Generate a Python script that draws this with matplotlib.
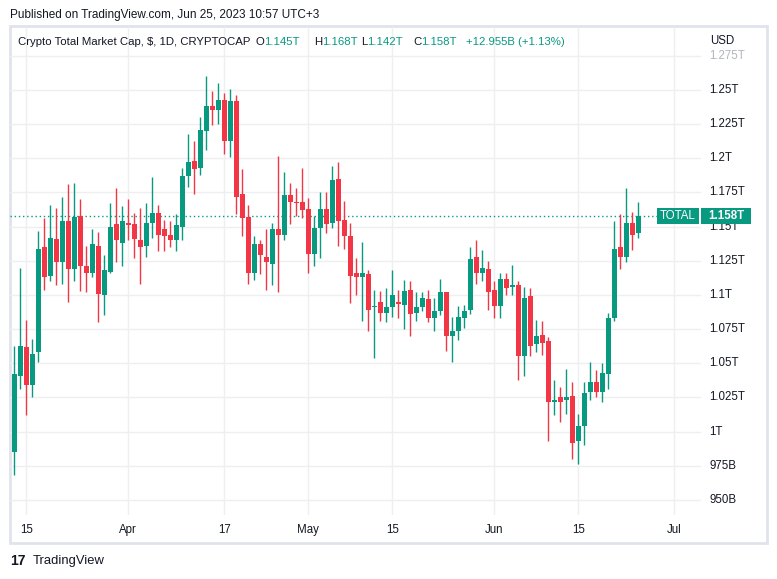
import matplotlib
matplotlib.use("Agg")
import matplotlib.pyplot as plt
import matplotlib.dates as mdates
import matplotlib.transforms as mtransforms
from matplotlib.patches import Rectangle
import numpy as np
import pandas as pd

plt.rcParams['font.family'] = ['Liberation Sans', 'DejaVu Sans']

# ---------------- data ----------------
start_date = "2023-03-13"
opens = [0.985, 1.041, 1.062, 1.034, 1.058, 1.135, 1.114, 1.141, 1.124, 1.154,
         1.119, 1.158, 1.121, 1.116, 1.136, 1.100, 1.117, 1.152, 1.138, 1.153,
         1.152, 1.140, 1.136, 1.153, 1.160, 1.148, 1.144, 1.140, 1.150, 1.187,
         1.198, 1.193, 1.220, 1.238, 1.235, 1.243, 1.213, 1.242, 1.174, 1.157,
         1.116, 1.137, 1.128, 1.123, 1.148, 1.144, 1.173, 1.168, 1.168, 1.163,
         1.130, 1.149, 1.163, 1.153, 1.185, 1.155, 1.143, 1.116, 1.113, 1.115,
         1.091, 1.095, 1.087, 1.091, 1.095, 1.093, 1.104, 1.087, 1.091, 1.097,
         1.083, 1.088, 1.102, 1.070, 1.074, 1.083, 1.089, 1.128, 1.116, 1.119,
         1.104, 1.092, 1.112, 1.106, 1.107, 1.055, 1.099, 1.064, 1.071, 1.066,
         1.022, 1.025, 1.023, 1.026, 0.993, 1.004, 1.029, 1.036, 1.029, 1.042,
         1.083, 1.135, 1.128, 1.153, 1.145]
highs = [1.063, 1.120, 1.082, 1.068, 1.147, 1.156, 1.166, 1.164, 1.172, 1.181,
         1.182, 1.170, 1.136, 1.148, 1.146, 1.129, 1.167, 1.178, 1.165, 1.170,
         1.160, 1.164, 1.167, 1.186, 1.166, 1.155, 1.154, 1.159, 1.193, 1.218,
         1.213, 1.230, 1.260, 1.249, 1.255, 1.248, 1.251, 1.246, 1.192, 1.166,
         1.143, 1.140, 1.148, 1.153, 1.202, 1.190, 1.182, 1.178, 1.193, 1.171,
         1.158, 1.175, 1.175, 1.194, 1.197, 1.169, 1.153, 1.127, 1.139, 1.118,
         1.104, 1.103, 1.105, 1.118, 1.104, 1.111, 1.110, 1.102, 1.102, 1.104,
         1.098, 1.112, 1.102, 1.084, 1.092, 1.093, 1.135, 1.140, 1.133, 1.125,
         1.110, 1.116, 1.116, 1.122, 1.110, 1.106, 1.105, 1.082, 1.081, 1.069,
         1.038, 1.033, 1.046, 1.036, 1.013, 1.036, 1.051, 1.045, 1.050, 1.087,
         1.154, 1.159, 1.178, 1.161, 1.168]
lows = [0.968, 1.031, 1.012, 1.025, 1.051, 1.104, 1.110, 1.107, 1.108, 1.095,
        1.110, 1.103, 1.102, 1.113, 1.080, 1.085, 1.116, 1.124, 1.121, 1.140,
        1.127, 1.108, 1.128, 1.142, 1.132, 1.132, 1.135, 1.132, 1.140, 1.179,
        1.174, 1.188, 1.206, 1.224, 1.225, 1.203, 1.201, 1.159, 1.143, 1.108,
        1.111, 1.115, 1.104, 1.107, 1.102, 1.140, 1.152, 1.158, 1.156, 1.116,
        1.121, 1.127, 1.145, 1.149, 1.136, 1.134, 1.094, 1.100, 1.081, 1.074,
        1.054, 1.081, 1.080, 1.084, 1.083, 1.075, 1.070, 1.081, 1.088, 1.080,
        1.074, 1.085, 1.059, 1.051, 1.067, 1.076, 1.086, 1.108, 1.110, 1.089,
        1.083, 1.083, 1.100, 1.100, 1.038, 1.041, 1.055, 1.058, 1.056, 0.993,
        1.012, 1.007, 1.013, 0.980, 0.976, 0.990, 1.023, 1.025, 1.022, 1.031,
        1.081, 1.119, 1.124, 1.133, 1.142]
closes = [1.042, 1.063, 1.034, 1.057, 1.134, 1.113, 1.142, 1.124, 1.154, 1.119,
          1.157, 1.121, 1.116, 1.137, 1.101, 1.118, 1.150, 1.140, 1.154, 1.151,
          1.141, 1.135, 1.153, 1.160, 1.144, 1.143, 1.140, 1.151, 1.187, 1.197,
          1.192, 1.221, 1.238, 1.235, 1.243, 1.213, 1.242, 1.172, 1.156, 1.116,
          1.137, 1.129, 1.124, 1.148, 1.144, 1.173, 1.168, 1.1673, 1.162, 1.130,
          1.149, 1.163, 1.152, 1.184, 1.154, 1.143, 1.114, 1.113, 1.116, 1.089,
          1.0915, 1.087, 1.091, 1.100, 1.0935, 1.103, 1.086, 1.091, 1.098, 1.083,
          1.088, 1.102, 1.070, 1.074, 1.084, 1.088, 1.126, 1.116, 1.120, 1.102,
          1.092, 1.112, 1.105, 1.107, 1.055, 1.098, 1.063, 1.070, 1.065, 1.022,
          1.023, 1.022, 1.025, 0.992, 1.004, 1.028, 1.036, 1.029, 1.043, 1.083,
          1.134, 1.128, 1.153, 1.144, 1.158]

y_ticks = [0.95, 0.975, 1.0, 1.025, 1.05, 1.075, 1.1, 1.125, 1.15, 1.175,
           1.2, 1.225, 1.25, 1.275]
y_tick_labels = ["950B", "975B", "1T", "1.025T", "1.05T", "1.075T", "1.1T",
                 "1.125T", "1.15T", "1.175T", "1.2T", "1.225T", "1.25T", "1.275T"]
x_tick_dates = ["2023-03-15", "2023-04-01", "2023-04-17", "2023-05-01",
                "2023-05-15", "2023-06-01", "2023-06-15", "2023-07-01"]
x_tick_labels = ["15", "Apr", "17", "May", "15", "Jun", "15", "Jul"]
last_close = 1.158
symbol_name = "TOTAL"
last_label = "1.158T"

# ---------------- styling ----------------
W, H = 777, 579
GREEN = "#089981"
RED = "#F23645"
TXT = "#131722"
GRID = "#eeeff1"
BORDER = "#e0e3eb"

fig = plt.figure(figsize=(W / 100, H / 100), dpi=100)
fig.patch.set_facecolor("white")


def fx(px):
    return px / W


def fy(py):
    return 1 - py / H


# plot area in pixels
PL, PR, PT, PB = 10, 701, 27, 515
ax = fig.add_axes([fx(PL), fy(PB), fx(PR) - fx(PL), fy(PT) - fy(PB)])
ax.set_facecolor("none")
for s in ax.spines.values():
    s.set_visible(False)
ax.set_xticks([])
ax.set_yticks([])

dates = pd.date_range(start_date, periods=len(opens), freq="D")
xd = mdates.date2num(dates)
o = np.array(opens)
h = np.array(highs)
l = np.array(lows)
c = np.array(closes)

px_per_day = 6.0
first_px = 14.3
ax.set_xlim(xd[0] - (first_px - PL) / px_per_day, xd[0] + (PR - first_px) / px_per_day)
ax.set_ylim(0.93903, 1.29606)

# grid
for yt in y_ticks:
    ax.axhline(yt, color=GRID, lw=1.0, zorder=0)
xt = mdates.date2num(pd.to_datetime(x_tick_dates))
for xv in xt:
    ax.axvline(xv, color=GRID, lw=1.0, zorder=0)

# candles
up = c >= o
cols = np.where(up, GREEN, RED)
ax.vlines(xd, l, h, colors=cols, lw=1.0, zorder=3)
body_bottom = np.minimum(o, c)
body_h = np.maximum(np.abs(c - o), 0.0008)
ax.bar(xd, body_h, bottom=body_bottom, width=0.78, color=cols, lw=0, zorder=4)

# last price dotted line
ax.axhline(last_close, xmin=0, xmax=(657 - PL) / (PR - PL), color=GREEN,
           lw=1.0, ls=(0, (1, 2)), zorder=2)

# frame
fig.add_artist(Rectangle((fx(10), fy(543)), fx(767) - fx(10), fy(26) - fy(543),
                         transform=fig.transFigure, fill=False,
                         edgecolor=BORDER, lw=2.0, zorder=0))

# price axis labels
ytrans = mtransforms.blended_transform_factory(fig.transFigure, ax.transData)
for yt, lab in zip(y_ticks, y_tick_labels):
    col = "#b2b5be" if lab == "1.275T" else TXT
    fig.text(fx(709), yt, lab, transform=ytrans, ha="left", va="center",
             fontsize=8.3, color=col, zorder=1)
fig.text(fx(710), fy(41), "USD", ha="left", va="center", fontsize=8.3, color=TXT)

# time axis labels
xtrans = mtransforms.blended_transform_factory(ax.transData, fig.transFigure)
for xv, lab in zip(xt, x_tick_labels):
    fig.text(xv, fy(530), lab, transform=xtrans, ha="center", va="center",
             fontsize=8.3, color=TXT)

# last-price labels
fig.canvas.draw()
ypix = ax.transData.transform((xd[-1], last_close))[1]
hb = 16
fig.add_artist(Rectangle((fx(657), (ypix - hb / 2) / H), fx(699) - fx(657), hb / H,
                         transform=fig.transFigure, facecolor=GREEN,
                         edgecolor="none", zorder=5))
fig.add_artist(Rectangle((fx(701), (ypix - hb / 2) / H), fx(751) - fx(701), hb / H,
                         transform=fig.transFigure, facecolor=GREEN,
                         edgecolor="none", zorder=5))
fig.text(fx(678), ypix / H, symbol_name, ha="center", va="center",
         fontsize=8.3, color="white", zorder=6)
fig.text(fx(726), ypix / H, last_label, ha="center", va="center",
         fontsize=8.3, color="white", fontweight="bold", zorder=6)

# header texts
fig.text(fx(10), fy(15), "Published on TradingView.com, Jun 25, 2023 10:57 UTC+3",
         ha="left", va="center", fontsize=8.5, color=TXT)

renderer = fig.canvas.get_renderer()


def seq(x0, pieces, ypx):
    x = x0
    for txt, col in pieces:
        t = fig.text(fx(x), fy(ypx), txt, ha="left", va="center",
                     fontsize=8.2, color=col)
        bb = t.get_window_extent(renderer=renderer)
        x += bb.width


seq(18, [("Crypto Total Market Cap, $, 1D, CRYPTOCAP", TXT)], 42)
seq(255, [("O", TXT), ("1.145T", GREEN)], 42)
seq(314, [("H", TXT), ("1.168T", GREEN)], 42)
seq(361, [("L", TXT), ("1.142T", GREEN)], 42)
seq(413, [("C", TXT), ("1.158T", GREEN)], 42)
seq(466, [("+12.955B (+1.13%)", GREEN)], 42)

# footer logo
fig.text(fx(10), fy(561), "17", ha="left", va="center", fontsize=10,
         fontweight="heavy", color=TXT)
fig.text(fx(33), fy(561), "TradingView", ha="left", va="center",
         fontsize=9.4, color=TXT)

fig.savefig("out.png", dpi=100)
